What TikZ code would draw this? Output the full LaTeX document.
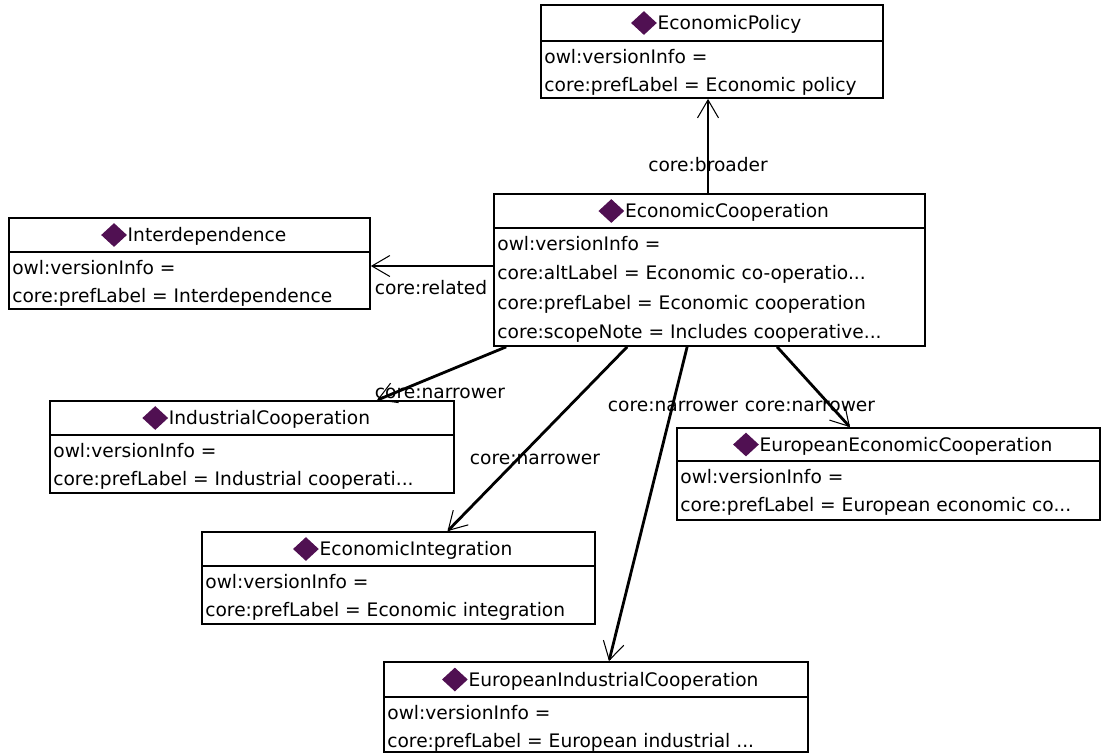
\documentclass[tikz,border=0pt]{standalone}
\usepackage{fontspec}
\setmainfont{DejaVu Sans}
\usetikzlibrary{positioning,shapes.geometric,arrows.meta}
\definecolor{owlpurple}{RGB}{80,16,82}
\tikzset{>={Straight Barb[length=0.36cm,width=0.42cm,line width=0.6pt]}}

\begin{document}
\begin{tikzpicture}[x=0.02cm, y=-0.02cm, font=\fontsize{10.6}{12.7}\selectfont]
  \tikzstyle{classbox} = [draw, line width=1pt, rectangle, inner sep=0pt]
  \tikzstyle{sepline} = [line width=1pt]
  \tikzstyle{diamondmark} = [diamond, fill=owlpurple, inner sep=0pt, minimum width=0.52cm, minimum height=0.48cm]
  \tikzstyle{headtext} = [inner sep=0pt, text height=7.8pt, text depth=0pt, label distance=0.18cm, label={[diamondmark]left:{}}]
  \tikzstyle{rowtext} = [anchor=base west, inner sep=0pt]
  \tikzstyle{relation} = [->, line width=1.6pt]
  \tikzstyle{rellabel} = [inner sep=0pt]

  \useasboundingbox (0,0) rectangle (1104,755);

  % EconomicPolicy
  \node[classbox, minimum width=6.84cm, minimum height=1.86cm] (policy) at (712,51.5) {};
  \draw[sepline] (policy.west |- 0,41) -- (policy.east |- 0,41);
  \node[headtext] (policy-h) at (729.5,23) {EconomicPolicy};
  \node[rowtext] (policy-r1) at (544,63) {owl:versionInfo =};
  \node[rowtext] (policy-r2) at (544,91) {core:prefLabel = Economic policy};

  % EconomicCooperation
  \node[classbox, minimum width=8.62cm, minimum height=3.04cm] (coop) at (709.5,270) {};
  \draw[sepline] (coop.west |- 0,228) -- (coop.east |- 0,228);
  \node[headtext] (coop-h) at (727,211) {EconomicCooperation};
  \node[rowtext] (coop-r1) at (497,250) {owl:versionInfo =};
  \node[rowtext] (coop-r2) at (497,279) {core:altLabel = Economic co-operatio...};
  \node[rowtext] (coop-r3) at (497,309) {core:prefLabel = Economic cooperation};
  \node[rowtext] (coop-r4) at (497,338) {core:scopeNote = Includes cooperative...};

  % Interdependence
  \node[classbox, minimum width=7.22cm, minimum height=1.82cm] (interdep) at (189.5,263.5) {};
  \draw[sepline] (interdep.west |- 0,252) -- (interdep.east |- 0,252);
  \node[headtext] (interdep-h) at (207,235) {Interdependence};
  \node[rowtext] (interdep-r1) at (12,274) {owl:versionInfo =};
  \node[rowtext] (interdep-r2) at (12,302) {core:prefLabel = Interdependence};

  % IndustrialCooperation
  \node[classbox, minimum width=8.08cm, minimum height=1.84cm] (indcoop) at (252,447) {};
  \draw[sepline] (indcoop.west |- 0,435) -- (indcoop.east |- 0,435);
  \node[headtext] (indcoop-h) at (269.5,418) {IndustrialCooperation};
  \node[rowtext] (indcoop-r1) at (53,457) {owl:versionInfo =};
  \node[rowtext] (indcoop-r2) at (53,485) {core:prefLabel = Industrial cooperati...};

  % EuropeanEconomicCooperation
  \node[classbox, minimum width=8.46cm, minimum height=1.84cm] (eecoop) at (888.5,474) {};
  \draw[sepline] (eecoop.west |- 0,461) -- (eecoop.east |- 0,461);
  \node[headtext] (eecoop-h) at (906,444.5) {EuropeanEconomicCooperation};
  \node[rowtext] (eecoop-r1) at (680,483) {owl:versionInfo =};
  \node[rowtext] (eecoop-r2) at (680,511) {core:prefLabel = European economic co...};

  % EconomicIntegration
  \node[classbox, minimum width=7.86cm, minimum height=1.84cm] (econint) at (398.5,578) {};
  \draw[sepline] (econint.west |- 0,566) -- (econint.east |- 0,566);
  \node[headtext] (econint-h) at (416,549) {EconomicIntegration};
  \node[rowtext] (econint-r1) at (205,588) {owl:versionInfo =};
  \node[rowtext] (econint-r2) at (205,616) {core:prefLabel = Economic integration};

  % EuropeanIndustrialCooperation
  \node[classbox, minimum width=8.48cm, minimum height=1.80cm] (euind) at (596,707) {};
  \draw[sepline] (euind.west |- 0,697) -- (euind.east |- 0,697);
  \node[headtext] (euind-h) at (613.5,679.5) {EuropeanIndustrialCooperation};
  \node[rowtext] (euind-r1) at (387,719) {owl:versionInfo =};
  \node[rowtext] (euind-r2) at (387,747) {core:prefLabel = European industrial ...};

  % relations
  \draw[relation] ([xshift=-0.03cm]coop.north) -- ([xshift=-0.03cm]coop.north |- policy.south);
  \draw[relation] ([yshift=0.08cm]coop.west) -- ([yshift=0.08cm]coop.west -| interdep.east);
  \draw[relation] ([xshift=0.26cm]coop.south west) -- ([xshift=2.5cm]indcoop.north);
  \draw[relation] ([xshift=2.68cm]coop.south west) -- ([xshift=0.98cm]econint.north);
  \draw[relation] ([xshift=3.88cm]coop.south west) -- ([xshift=0.26cm]euind.north);
  \draw[relation] ([xshift=5.68cm]coop.south west) -- ([xshift=-0.77cm]eecoop.north);

  \node[rellabel] (broader-l) at (708,165) {core:broader};
  \node[rellabel] (related-l) at (431,288) {core:related};
  \node[rellabel] (narrow1-l) at (440,393) {core:narrower};
  \node[rellabel] (narrow2-l) at (535,459) {core:narrower};
  \node[rellabel] (narrow3-l) at (673,406) {core:narrower};
  \node[rellabel] (narrow4-l) at (810,406) {core:narrower};
\end{tikzpicture}
\end{document}
